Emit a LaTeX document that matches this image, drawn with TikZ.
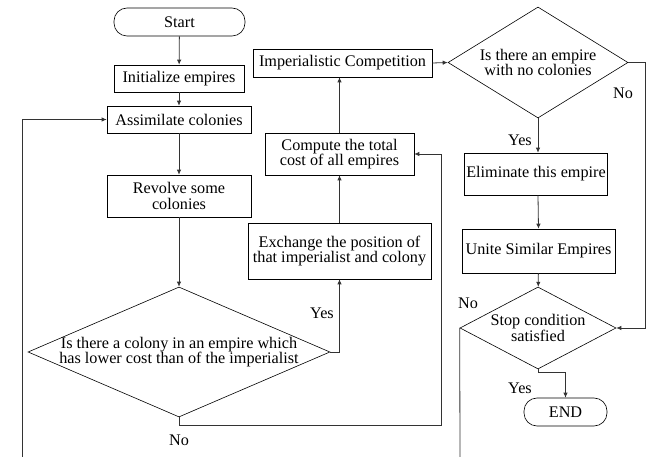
\documentclass[tikz,border=0pt]{standalone}
\usepackage{fontspec}
\setmainfont{Liberation Serif}
\usetikzlibrary{shapes.geometric,arrows.meta,positioning,calc}

\begin{document}
\begin{tikzpicture}[
        x=1pt, y=-1pt,
        every node/.style={font=\fontsize{16.2}{15.6}\selectfont, text=black},
        block/.style={
            draw, rectangle, line width=0.6pt,
            inner sep=2pt, align=center
        },
        term/.style={
            draw, rectangle, rounded corners=13pt, line width=0.6pt,
            minimum height=28pt
        },
        decision/.style={
            draw, diamond, line width=0.6pt, inner sep=0pt
        },
        line/.style={draw=black!80, line width=0.8pt},
        flow/.style={line, -{Latex[length=5pt,width=4.5pt]}}
      ]
  \useasboundingbox (0,0) rectangle (646,457);

  \node[term, minimum width=131pt] (start) at (179.5,22) {Start};
  \node[block, minimum width=130pt, minimum height=27pt] (init) at (179,78.5) {Initialize empires};
  \node[block, minimum width=144pt, minimum height=27pt] (assim) at (179,119.5) {Assimilate colonies};
  \node[block, minimum width=144pt, minimum height=42pt] (revolve) at (179,196) {Revolve some\\colonies};
  \node[decision, minimum width=302pt, minimum height=130pt,
        label={[align=center]center:Is there a colony in an empire which\\has lower cost than of the imperialist}] (colony) at (179,352) {};
  \node[block, minimum width=183pt, minimum height=56pt] (exchange) at (339.5,251) {Exchange the position of\\that imperialist and colony};
  \node[block, minimum width=149pt, minimum height=42pt] (compute) at (339.5,154) {Compute the total\\cost of all empires};
  \node[block, minimum width=179pt, minimum height=28pt] (compete) at (342.5,63) {Imperialistic Competition};
  \node[decision, minimum width=180pt, minimum height=111pt,
        label={[align=center]center:Is there an empire\\with no colonies}] (empty) at (538,62.5) {};
  \node[block, minimum width=143pt, minimum height=42pt] (elim) at (536,174) {Eliminate this empire};
  \node[block, minimum width=153pt, minimum height=44pt] (unite) at (538.5,251) {Unite Similar Empires};
  \node[decision, minimum width=156pt, minimum height=82pt,
        label={[align=center]center:Stop condition\\satisfied}] (stop) at (538,328) {};
  \node[term, minimum width=83pt] (finish) at (565.5,412) {END};

  \coordinate (back) at (441,154);
  \coordinate (loopL) at (22,457);
  \coordinate (loopR) at (460,457);

  \path[flow] (start) -- (init);
  \path[flow] (init) -- (assim);
  \path[flow] (assim) -- (revolve);
  \path[flow] (revolve) -- (colony);
  \path[flow] (colony.east) -| (exchange.south);
  \path[flow] (exchange) -- (compute);
  \path[flow] (compute.north) -- (compute.north |- compete.south);
  \path[flow] (compete.east) -- (empty.west);
  \path[flow] (empty.south) -- (empty.south |- elim.north);
  \path[flow] (empty.south |- elim.south) -- (unite.north);
  \path[flow] (unite) -- (stop);
  \path[flow] (empty.east) -- ++(17,0) |- (stop.east);
  \path[flow] (stop.south) -- ++(0,3) -| (finish.north);
  \path[flow] (colony.south) -- ++(0,8) -| (back) -- (compute.east);
  \path[flow] (loopL) |- (assim.west);
  \path[line] (stop.west) -- (loopR);

  \node (yes1) at (322,313) {Yes};
  \node (no1) at (179,440) {No};
  \node (yes2) at (520,140) {Yes};
  \node (no2) at (623,93) {No};
  \node (no3) at (468,303) {No};
  \node (yes3) at (520,388) {Yes};
\end{tikzpicture}
\end{document}
